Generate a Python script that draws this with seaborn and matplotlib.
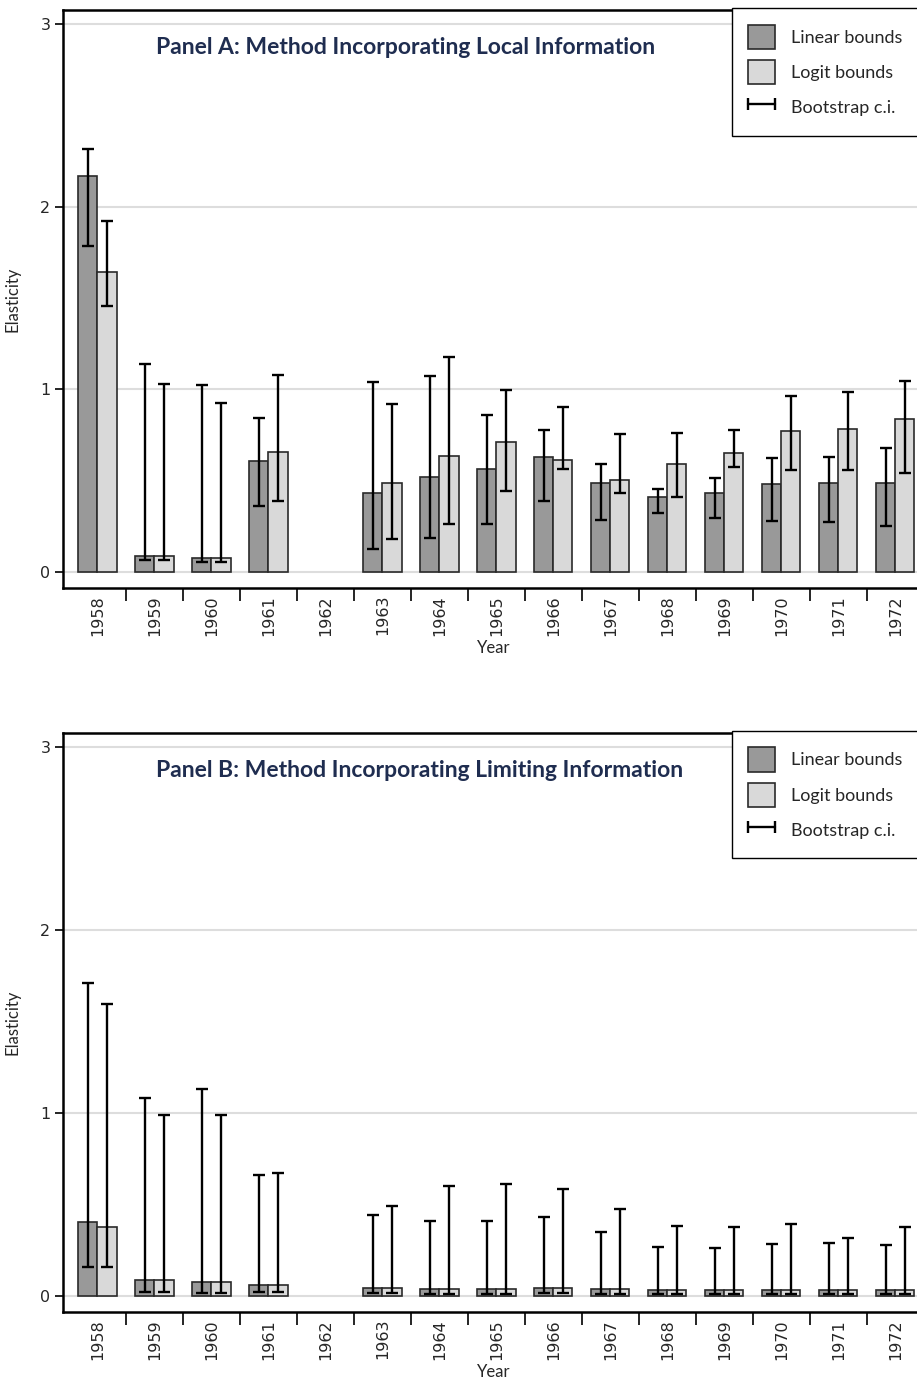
import numpy as np
import pandas as pd
import matplotlib
matplotlib.use('Agg')
import matplotlib.pyplot as plt
from matplotlib.patches import Patch
from matplotlib.lines import Line2D
from matplotlib.legend_handler import HandlerLine2D
from matplotlib.ticker import FixedLocator
import seaborn as sns

years = [str(y) for y in range(1958, 1973)]
methods = ['Linear bounds', 'Logit bounds']
nan = np.nan

# Panel A: local information
a_linear    = [2.17, 0.089, 0.078, 0.608, nan, 0.435, 0.519, 0.566, 0.632, 0.489, 0.413, 0.435, 0.484, 0.489, 0.489]
a_linear_lo = [1.787, 0.066, 0.056, 0.359, nan, 0.124, 0.186, 0.263, 0.391, 0.285, 0.325, 0.294, 0.279, 0.276, 0.254]
a_linear_hi = [2.317, 1.137, 1.022, 0.843, nan, 1.039, 1.072, 0.862, 0.780, 0.593, 0.453, 0.517, 0.625, 0.632, 0.681]
a_logit     = [1.643, 0.089, 0.078, 0.659, nan, 0.489, 0.634, 0.714, 0.615, 0.502, 0.590, 0.650, 0.774, 0.784, 0.840]
a_logit_lo  = [1.455, 0.066, 0.056, 0.386, nan, 0.181, 0.261, 0.444, 0.564, 0.431, 0.413, 0.574, 0.559, 0.561, 0.541]
a_logit_hi  = [1.920, 1.031, 0.927, 1.080, nan, 0.922, 1.178, 0.995, 0.902, 0.758, 0.760, 0.778, 0.963, 0.985, 1.048]

# Panel B: limiting information
b_linear    = [0.404, 0.088, 0.075, 0.060, nan, 0.045, 0.040, 0.040, 0.045, 0.035, 0.030, 0.030, 0.030, 0.030, 0.030]
b_linear_lo = [0.159, 0.020, 0.016, 0.022, nan, 0.015, 0.012, 0.012, 0.015, 0.010, 0.010, 0.010, 0.010, 0.010, 0.010]
b_linear_hi = [1.710, 1.084, 1.128, 0.658, nan, 0.440, 0.408, 0.410, 0.430, 0.347, 0.269, 0.260, 0.284, 0.291, 0.278]
b_logit     = [0.378, 0.088, 0.075, 0.060, nan, 0.045, 0.040, 0.040, 0.045, 0.035, 0.030, 0.030, 0.030, 0.030, 0.030]
b_logit_lo  = [0.159, 0.020, 0.016, 0.022, nan, 0.015, 0.012, 0.012, 0.015, 0.010, 0.010, 0.010, 0.010, 0.010, 0.010]
b_logit_hi  = [1.595, 0.991, 0.986, 0.669, nan, 0.493, 0.600, 0.609, 0.585, 0.477, 0.380, 0.375, 0.390, 0.318, 0.377]

titles = ['Panel A: Method Incorporating Local Information',
          'Panel B: Method Incorporating Limiting Information']

colors = {'Linear bounds': '#999999', 'Logit bounds': '#d9d9d9'}
title_color = '#1f2d50'
bar_width = 0.67

sns.set_theme(style='white')
plt.rcParams['font.family'] = ['DejaVu Sans']


def make_df(linear, logit):
    return pd.DataFrame({
        'Year': years * 2,
        'Elasticity': linear + logit,
        'method': [methods[0]] * len(years) + [methods[1]] * len(years),
    })


def draw_panel(ax, df, ci, title):
    sns.barplot(data=df, x='Year', y='Elasticity', hue='method',
                order=years, hue_order=methods, palette=colors,
                width=bar_width, errorbar=None, edgecolor='#2a2a2a',
                linewidth=1.2, saturation=1, legend=False, ax=ax, zorder=2)

    # Bootstrap c.i. whiskers
    pos = np.arange(len(years))
    for k, (lo, hi) in enumerate(ci):
        lo = np.array(lo)
        hi = np.array(hi)
        x = pos + (k - 0.5) * bar_width / 2
        ax.errorbar(x, (lo + hi) / 2, yerr=(hi - lo) / 2, fmt='none',
                    ecolor='black', elinewidth=1.7, capsize=4.3,
                    capthick=1.7, zorder=3)

    ax.set_xlim(-0.605, 14.52)
    ax.set_ylim(-0.088, 3.077)
    ax.set_yticks([0, 1, 2, 3])
    ax.yaxis.grid(True, color='#dddddd', linewidth=1.5, zorder=0)
    ax.set_axisbelow(True)
    ax.tick_params(axis='y', direction='out', length=6, width=1.2,
                   left=True, labelsize=11.5, pad=3, color='black')
    ax.tick_params(axis='x', which='major', length=0, labelsize=11.5,
                   labelrotation=90, pad=5)
    ax.xaxis.set_minor_locator(FixedLocator(pos[:-1] + 0.5))
    ax.tick_params(axis='x', which='minor', direction='out', length=9,
                   width=1.2, bottom=True, color='black')
    for side in ['left', 'top', 'bottom']:
        ax.spines[side].set_color('black')
        ax.spines[side].set_linewidth(1.8)
    ax.spines['right'].set_visible(False)

    ax.set_xlabel('Year', family='Lato', fontsize=12, labelpad=3)
    ax.set_ylabel('Elasticity', family='Lato', fontsize=12, labelpad=14)

    ax.text(0.108, 0.935, title, transform=ax.transAxes,
            family='Lato', fontweight='bold', fontsize=16.5,
            color=title_color, ha='left', va='center')

    ci_handle = Line2D([0, 1], [0, 0], color='black', linewidth=1.7,
                       marker='|', markersize=9, markeredgewidth=1.7)
    handles = [
        Patch(facecolor=colors[methods[0]], edgecolor='#2a2a2a', linewidth=1.2),
        Patch(facecolor=colors[methods[1]], edgecolor='#2a2a2a', linewidth=1.2),
        ci_handle,
    ]
    leg = ax.legend(handles, methods + ['Bootstrap c.i.'],
                    loc='upper left', bbox_to_anchor=(0.776, 1.003),
                    frameon=True, fancybox=False, edgecolor='black',
                    framealpha=1, handlelength=1.5,
                    handleheight=1.7, handletextpad=0.9,
                    labelspacing=0.6, borderpad=0.9, borderaxespad=0,
                    handler_map={ci_handle: HandlerLine2D(marker_pad=0, numpoints=2)},
                    prop={'family': 'Lato', 'size': 13})
    leg.get_frame().set_linewidth(1.0)


fig = plt.figure(figsize=(9.17, 13.82), dpi=100)
ax_a = fig.add_axes([0.0687, 0.5745, 0.94, 0.4182])
ax_b = fig.add_axes([0.0687, 0.0507, 0.94, 0.4190])

draw_panel(ax_a, make_df(a_linear, a_logit),
           [(a_linear_lo, a_linear_hi), (a_logit_lo, a_logit_hi)], titles[0])
draw_panel(ax_b, make_df(b_linear, b_logit),
           [(b_linear_lo, b_linear_hi), (b_logit_lo, b_logit_hi)], titles[1])

fig.savefig('out.png', dpi=100)
